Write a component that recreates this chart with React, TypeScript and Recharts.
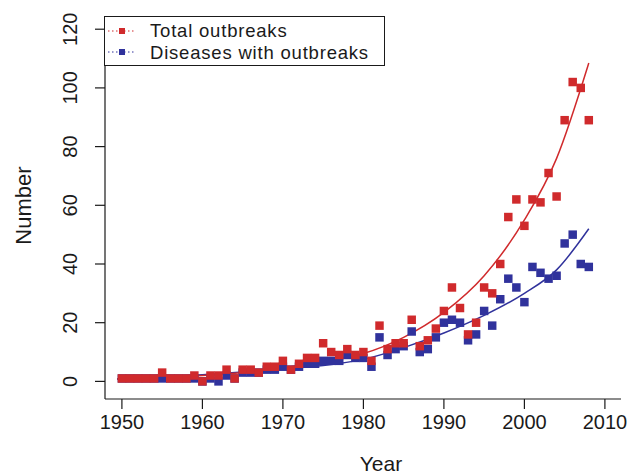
import { ComposedChart, Line, Scatter, XAxis, YAxis, ZAxis } from 'recharts';

// observed yearly counts
const years = [
  1950, 1951, 1952, 1953, 1954, 1955, 1956, 1957, 1958, 1959,
  1960, 1961, 1962, 1963, 1964, 1965, 1966, 1967, 1968, 1969,
  1970, 1971, 1972, 1973, 1974, 1975, 1976, 1977, 1978, 1979,
  1980, 1981, 1982, 1983, 1984, 1985, 1986, 1987, 1988, 1989,
  1990, 1991, 1992, 1993, 1994, 1995, 1996, 1997, 1998, 1999,
  2000, 2001, 2002, 2003, 2004, 2005, 2006, 2007, 2008,
];
const totalOutbreaks = [
  1, 1, 1, 1, 1, 3, 1, 1, 1, 2,
  0, 2, 2, 4, 1, 4, 4, 3, 5, 5,
  7, 4, 6, 8, 8, 13, 10, 9, 11, 9,
  10, 7, 19, 11, 13, 13, 21, 12, 14, 18,
  24, 32, 25, 16, 20, 32, 30, 40, 56, 62,
  53, 62, 61, 71, 63, 89, 102, 100, 89,
];
const diseasesWithOutbreaks = [
  1, 1, 1, 1, 1, 1, 1, 1, 1, 1,
  0, 1, 0, 2, 1, 3, 3, 3, 4, 4,
  5, 4, 5, 6, 6, 7, 7, 7, 9, 8,
  8, 5, 15, 9, 11, 12, 17, 10, 11, 15,
  20, 21, 20, 14, 16, 24, 19, 28, 35, 32,
  27, 39, 37, 35, 36, 47, 50, 40, 39,
];

// fitted curves
const curveYears = [1949.4, 1955, 1960, 1965, 1970, 1975, 1980, 1985, 1990, 1995, 2000, 2004, 2008];
const totalFit = [0.8, 1.3, 2.0, 3.0, 4.6, 6.8, 9.5, 15, 23.5, 36, 55, 76, 108.5];
const diseasesFit = [0.8, 1.5, 2.3, 3.2, 4.3, 5.4, 7.5, 11.5, 16.5, 22.5, 30, 38, 52];

const xTicks = [1950, 1960, 1970, 1980, 1990, 2000, 2010];
const yTicks = [0, 20, 40, 60, 80, 100, 120];

const RED = '#d02a2c';
const BLUE = '#30329c';
const INK = '#1a1a1a';
const FONT = '"Liberation Sans", Arial, Helvetica, sans-serif';
const X_DOMAIN = [1947.9, 2012];
const Y_DOMAIN = [-6, 124.5];

const toPoints = (xs: number[], ys: number[]) => xs.map((year, i) => ({ year, value: ys[i] }));

const YTick = ({ x, y, payload }: any) => (
  <text
    x={x}
    y={y}
    transform={`rotate(-90, ${x}, ${y})`}
    textAnchor="middle"
    fontSize={20}
    fontFamily={FONT}
    fill={INK}
  >
    {payload.value}
  </text>
);

const NumberLabel = ({ viewBox }: any) => {
  const cy = viewBox && viewBox.height ? viewBox.y + viewBox.height / 2 : 207;
  return (
    <text
      x={23}
      y={cy - 2}
      transform={`rotate(-90, 23, ${cy - 2})`}
      textAnchor="middle"
      dominantBaseline="central"
      fontSize={22}
      fontFamily={FONT}
      fill={INK}
    >
      Number
    </text>
  );
};

const YearLabel = ({ viewBox }: any) => {
  const cx = viewBox && viewBox.width ? viewBox.x + viewBox.width / 2 : 363;
  return (
    <text x={cx + 18} y={471} textAnchor="middle" fontSize={21} fontFamily={FONT} fill={INK}>
      Year
    </text>
  );
};

const LegendKey = ({ color }: { color: string }) => (
  <svg width={30} height={16} style={{ display: 'block' }}>
    <line x1={3} y1={8} x2={29} y2={8} stroke={color} strokeWidth={1} strokeDasharray="1.5 2.5" />
    <rect x={14} y={5} width={6} height={6} fill={color} />
  </svg>
);

const legendItems = [
  { label: 'Total outbreaks', color: RED },
  { label: 'Diseases with outbreaks', color: BLUE },
];

export default function App() {
  const totalPts = toPoints(years, totalOutbreaks);
  const diseasePts = toPoints(years, diseasesWithOutbreaks);
  return (
    <div style={{ position: 'absolute', left: 0, top: 0, width: 632, height: 475, background: '#fff' }}>
      <ComposedChart width={632} height={475} margin={{ top: 16, right: 11, bottom: 0, left: 0 }}>
        <XAxis
          dataKey="year"
          type="number"
          domain={X_DOMAIN}
          ticks={xTicks}
          allowDataOverflow
          height={76}
          tickSize={10}
          tickMargin={6}
          stroke={INK}
          strokeWidth={1.2}
          tick={{ fontSize: 20, fontFamily: FONT, fill: INK }}
          label={<YearLabel />}
        />
        <XAxis xAxisId="top" orientation="top" type="number" domain={X_DOMAIN} height={0} tick={false} tickLine={false} stroke={INK} strokeWidth={1.2} />
        <YAxis
          type="number"
          domain={Y_DOMAIN}
          ticks={yTicks}
          allowDataOverflow
          width={105}
          tickSize={10}
          tickMargin={18}
          stroke={INK}
          strokeWidth={1.2}
          tick={<YTick />}
          label={<NumberLabel />}
        />
        <YAxis yAxisId="right" orientation="right" type="number" domain={Y_DOMAIN} width={0} tick={false} tickLine={false} stroke={INK} strokeWidth={1.2} />
        <ZAxis range={[72, 72]} />
        <Scatter data={diseasePts} dataKey="value" fill={BLUE} shape="square" isAnimationActive={false} />
        <Scatter data={totalPts} dataKey="value" fill={RED} shape="square" isAnimationActive={false} />
        <Line data={toPoints(curveYears, diseasesFit)} dataKey="value" type="monotone" stroke={BLUE} strokeWidth={1.5} dot={false} isAnimationActive={false} />
        <Line data={toPoints(curveYears, totalFit)} dataKey="value" type="monotone" stroke={RED} strokeWidth={1.5} dot={false} isAnimationActive={false} />
      </ComposedChart>
      <div
        style={{
          position: 'absolute',
          left: 104,
          top: 16,
          width: 281,
          height: 50,
          border: `1.2px solid ${INK}`,
          background: '#fff',
          boxSizing: 'border-box',
          paddingTop: 3,
          fontFamily: FONT,
          fontSize: 18.5,
          letterSpacing: 0.8,
          color: INK,
        }}
      >
        {legendItems.map((item) => (
          <div key={item.label} style={{ display: 'flex', alignItems: 'center', height: 21.5 }}>
            <LegendKey color={item.color} />
            <span style={{ marginLeft: 15, whiteSpace: 'nowrap', lineHeight: '21.5px' }}>{item.label}</span>
          </div>
        ))}
      </div>
    </div>
  );
}
